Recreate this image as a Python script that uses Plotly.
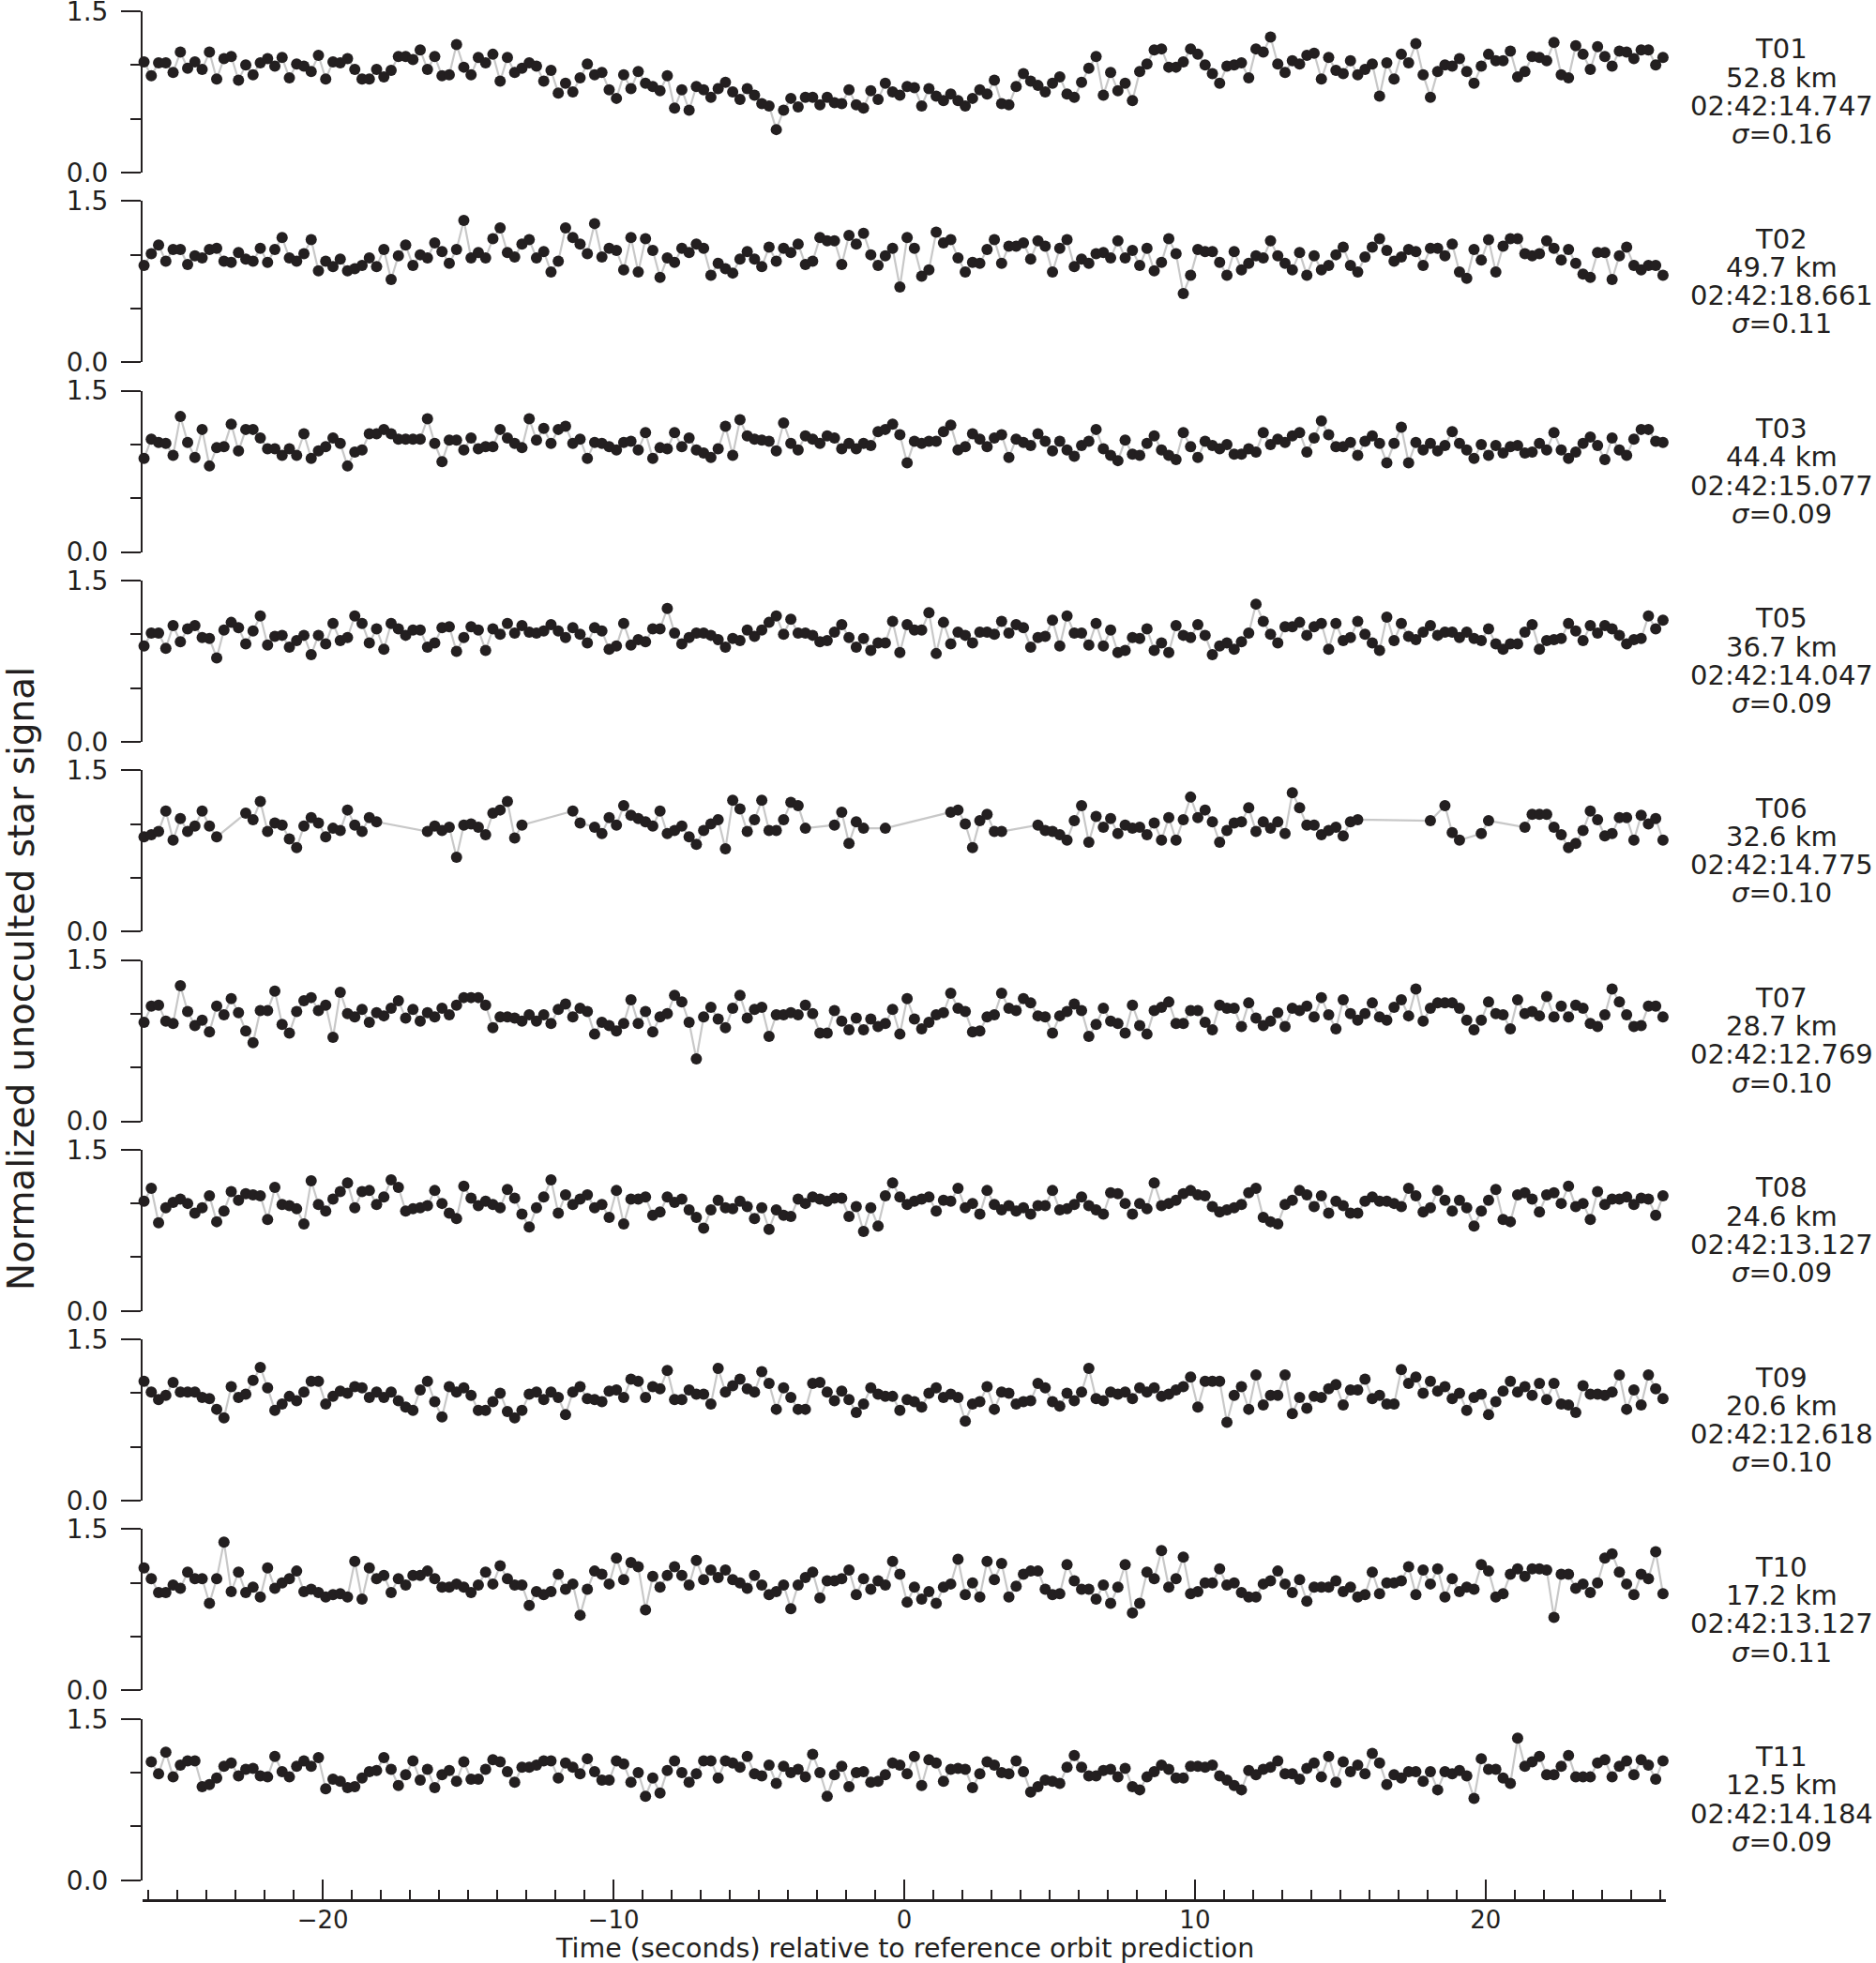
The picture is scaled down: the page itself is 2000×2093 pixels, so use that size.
import numpy as np
import plotly.graph_objects as go

# normalized star signal for each chord, one value per frame (None = dropped frame)
t01 = [1.03,0.90,1.02,1.02,0.93,1.12,0.97,1.03,0.96,1.12,0.87,1.06,1.08,0.86,1.00,0.91,1.02,1.06,0.99,1.07,
       0.88,1.01,0.99,0.94,1.09,0.87,1.03,1.02,1.06,0.96,0.87,0.87,0.96,0.89,0.95,1.08,1.08,1.05,1.14,0.96,
       1.08,0.90,0.91,1.19,0.98,0.91,1.07,1.02,1.10,0.85,1.07,0.93,0.97,1.02,0.99,0.85,0.95,0.74,0.83,0.75,
       0.88,1.01,0.91,0.93,0.77,0.69,0.91,0.78,0.94,0.83,0.80,0.76,0.90,0.60,0.77,0.58,0.80,0.77,0.70,0.78,
       0.84,0.75,0.68,0.78,0.72,0.64,0.62,0.40,0.58,0.69,0.61,0.70,0.70,0.63,0.70,0.65,0.64,0.77,0.63,0.60,
       0.76,0.68,0.83,0.75,0.72,0.80,
       0.79,0.62,0.78,0.71,0.67,0.73,0.67,0.62,0.69,0.77,0.73,0.86,0.64,0.63,0.80,0.92,0.85,0.81,0.75,0.83,
       0.89,0.73,0.70,0.84,0.97,1.08,0.72,0.93,0.76,0.83,0.67,0.94,1.01,1.14,1.15,0.98,0.98,1.03,1.15,1.10,
       1.00,0.92,0.83,0.99,1.00,1.02,0.88,1.15,1.12,1.26,1.01,0.93,1.04,1.01,1.09,1.11,0.87,1.07,0.95,0.92,
       1.04,0.91,0.96,1.01,0.71,1.02,0.87,1.10,1.02,1.20,0.91,0.70,0.94,1.00,0.99,1.06,0.94,0.83,0.99,1.10,
       1.04,1.04,1.13,0.89,0.94,1.08,1.07,1.04,1.21,0.91,0.88,1.18,1.10,0.96,1.17,1.08,0.99,1.13,1.12,1.06,
       1.14,1.14,1.00,1.07]
t02 = [0.90,1.01,1.09,0.94,1.05,1.05,0.91,0.99,0.97,1.05,1.06,0.94,0.93,1.02,0.96,0.94,1.06,0.93,1.05,1.16,
       0.97,0.94,1.01,1.14,0.85,0.94,0.89,0.96,0.85,0.87,0.90,0.97,0.89,1.05,0.77,0.99,1.09,0.90,1.00,0.97,
       1.11,1.03,0.92,1.05,1.32,0.97,1.02,0.97,1.15,1.25,1.02,0.98,1.10,1.14,0.97,1.03,0.84,0.94,1.25,1.16,
       1.10,1.01,1.29,0.98,1.06,1.04,0.86,1.16,0.84,1.15,1.04,0.79,0.97,0.93,1.06,1.02,1.10,1.06,0.81,0.92,
       0.87,0.83,0.96,1.03,0.96,0.89,1.07,0.94,1.06,1.02,1.10,0.91,0.94,1.16,1.13,1.13,0.91,1.18,1.10,1.20,
       1.00,0.90,0.99,1.06,0.70,1.16,
       1.06,0.80,0.86,1.21,1.11,1.14,0.97,0.84,0.93,0.92,1.05,1.14,0.92,1.08,1.08,1.11,0.96,1.13,1.08,0.84,
       1.06,1.14,0.89,0.96,0.92,1.01,1.02,0.97,1.13,0.97,1.04,0.90,1.06,0.85,0.93,1.15,1.01,0.64,0.81,1.05,
       1.03,1.03,0.93,0.81,1.03,0.86,0.92,0.99,0.97,1.13,0.99,0.92,0.86,1.02,0.81,0.99,0.86,0.90,1.00,1.07,
       0.90,0.84,0.98,1.07,1.15,1.04,0.94,0.98,1.05,1.03,0.90,1.06,1.06,0.99,1.10,0.84,0.78,1.05,0.95,1.14,
       0.84,1.08,1.15,1.15,1.01,0.99,1.01,1.13,1.06,0.95,1.05,0.92,0.82,0.79,1.02,1.02,0.77,0.99,1.07,0.90,
       0.86,0.90,0.90,0.81]
t03 = [0.87,1.05,1.02,1.01,0.90,1.26,1.02,0.88,1.14,0.80,0.97,0.98,1.19,0.94,1.14,1.14,1.06,0.96,0.96,0.90,
       0.96,0.90,1.10,0.87,0.94,0.98,1.06,1.01,0.80,0.93,0.95,1.10,1.10,1.14,1.10,1.05,1.05,1.05,1.05,1.24,
       1.01,0.84,1.04,1.04,0.95,1.06,0.96,0.98,0.98,1.14,1.06,1.01,0.97,1.24,1.04,1.15,1.01,1.14,1.17,1.01,
       1.05,0.87,1.02,1.01,0.98,0.95,1.02,1.03,0.95,1.11,0.87,0.97,0.96,1.11,0.98,1.06,0.95,0.92,0.88,0.96,
       1.17,0.90,1.23,1.08,1.05,1.04,1.03,0.94,1.20,1.01,0.95,1.08,1.05,1.01,1.08,1.06,0.96,1.01,0.96,1.01,
       0.99,1.12,1.14,1.19,1.09,0.83,
       1.03,1.01,1.03,1.03,1.12,1.18,0.95,0.98,1.10,1.05,0.98,1.06,1.09,0.88,1.05,1.02,0.99,1.10,1.03,0.94,
       1.03,0.95,0.89,0.99,1.03,1.14,0.96,0.90,0.85,1.04,0.91,0.90,1.01,1.08,0.95,0.90,0.86,1.11,0.98,0.88,
       1.03,0.99,0.96,1.00,0.91,0.91,0.96,0.93,1.11,1.00,1.05,1.02,1.08,1.11,0.93,1.06,1.22,1.09,0.98,0.98,
       1.02,0.90,1.03,1.08,1.01,0.83,1.01,1.16,0.83,1.02,0.95,1.01,0.94,0.99,1.12,1.01,0.95,0.87,1.00,0.90,
       0.99,0.92,0.98,0.99,0.92,0.93,1.01,0.95,1.11,0.95,0.87,0.93,1.01,1.07,0.99,0.86,1.06,0.95,0.90,1.05,
       1.14,1.14,1.03,1.02]
t05 = [0.89,1.01,1.01,0.87,1.08,0.93,1.05,1.08,0.97,0.96,0.78,1.04,1.11,1.06,0.91,1.03,1.17,0.90,0.98,0.99,
       0.88,0.94,0.99,0.81,0.99,0.91,1.10,0.94,0.97,1.17,1.10,0.92,1.05,0.86,1.10,1.05,0.99,1.04,1.04,0.88,
       0.92,1.06,1.07,0.84,0.97,1.07,1.04,0.85,1.05,1.00,1.10,1.01,1.08,1.02,1.01,1.03,1.09,1.03,0.97,1.06,
       1.00,0.92,1.06,1.03,0.86,0.89,1.10,0.90,0.95,0.93,1.05,1.05,1.24,1.01,0.91,0.97,1.01,1.01,0.99,0.95,
       0.88,0.96,0.94,1.04,0.98,1.04,1.11,1.17,1.00,1.14,1.01,1.01,0.99,0.93,0.94,1.02,1.09,0.97,0.88,0.96,
       0.85,0.92,0.92,1.12,0.83,1.09,
       1.04,1.04,1.20,0.82,1.11,0.91,1.02,0.99,0.92,1.02,1.02,1.00,1.12,1.01,1.09,1.06,0.88,0.97,0.98,1.13,
       0.89,1.17,1.01,1.01,0.90,1.10,0.89,1.04,0.83,0.85,0.97,0.96,1.05,0.85,0.92,0.83,1.08,0.99,0.97,1.09,
       0.99,0.81,0.89,0.92,0.86,0.93,1.01,1.28,1.12,1.00,0.92,1.07,1.07,1.11,0.99,1.07,1.10,0.86,1.10,0.94,
       0.97,1.12,1.00,0.92,0.85,1.16,0.94,1.10,0.98,0.95,1.02,1.08,0.99,1.02,1.02,0.97,1.02,0.96,0.94,1.05,
       0.91,0.86,0.91,0.91,1.02,1.09,0.86,0.94,0.95,0.96,1.10,1.03,0.94,1.08,1.01,1.08,1.05,0.99,0.91,0.95,
       0.96,1.17,1.05,1.13]
t06 = [0.88,0.90,0.93,1.12,0.85,1.05,0.93,0.98,1.12,0.98,0.88,None,None,None,
       1.10,1.04,1.21,0.93,1.01,0.99,0.86,0.78,0.98,1.06,1.01,0.88,0.96,0.94,1.13,0.99,0.93,1.06,1.02,
       None,None,None,None,None,None,
       0.93,0.98,0.94,0.97,0.69,0.99,1.00,0.97,0.90,1.10,1.13,1.21,0.87,0.99,
       None,None,None,None,None,None,
       1.12,1.01,None,
       0.97,0.91,1.06,0.99,1.17,1.08,1.05,1.02,0.98,1.12,0.91,0.94,0.98,0.88,0.81,0.94,1.00,1.04,0.77,1.22,
       1.14,0.93,1.04,1.22,0.94,0.94,1.04,1.20,1.17,0.96,
       None,None,None,
       0.99,1.11,0.82,1.02,0.96,None,None,0.96,
       None,None,None,None,None,None,None,None,
       1.11,1.13,1.00,0.78,1.03,1.09,0.93,0.93,None,None,None,None,
       0.99,0.94,0.93,0.90,0.85,1.03,1.17,0.83,1.07,0.97,1.05,0.91,0.99,0.96,0.97,0.90,1.01,0.85,1.06,0.85,
       1.04,1.25,1.06,1.13,1.02,0.83,0.94,1.01,1.02,1.15,0.93,1.02,0.96,1.02,0.91,1.29,1.15,0.99,0.99,0.90,
       0.94,0.97,0.89,1.02,1.04,
       None,None,None,None,None,None,None,None,None,
       1.03,None,1.17,0.92,0.85,None,None,0.91,1.03,None,None,None,None,
       0.97,1.09,1.09,1.09,0.97,0.90,0.78,0.82,0.94,1.12,1.04,0.89,0.91,1.06,1.06,0.85,1.08,1.00,1.05,0.85]
t07 = [0.92,1.07,1.08,0.93,0.91,1.26,1.02,0.89,0.94,0.83,1.07,0.99,1.14,1.01,0.84,0.73,1.03,1.03,1.21,0.90,
       0.82,1.02,1.12,1.15,1.03,1.08,0.78,1.20,1.00,0.97,1.04,0.92,1.01,0.98,1.05,1.12,0.96,1.04,0.93,1.01,
       0.97,1.05,0.99,1.08,1.15,1.15,1.15,1.08,0.87,0.97,0.97,0.96,0.93,0.99,0.93,0.99,0.91,1.04,1.09,0.97,
       1.05,1.02,0.81,0.92,0.89,0.84,0.91,1.13,0.91,1.02,0.83,0.97,1.00,1.17,1.11,0.92,0.58,0.97,1.06,0.95,
       0.87,1.05,1.17,0.96,1.04,1.06,0.79,0.99,0.99,1.01,0.99,1.08,1.00,0.82,0.82,1.03,0.93,0.85,0.96,0.85,
       0.95,0.88,0.91,1.04,0.81,1.14,
       0.95,0.86,0.92,0.99,1.01,1.19,1.05,1.02,0.83,0.84,0.97,0.99,1.19,1.05,1.03,1.14,1.10,0.98,0.97,0.82,
       0.98,1.02,1.09,1.03,0.79,0.90,1.05,0.93,0.91,0.82,1.08,0.89,0.81,1.03,1.06,1.11,0.91,0.91,1.03,1.03,
       0.92,0.85,1.08,1.05,1.05,0.88,1.10,0.96,0.89,0.93,1.01,0.88,1.05,1.03,1.07,0.97,1.15,0.99,0.86,1.13,
       1.00,0.94,1.00,1.10,0.97,0.94,1.06,1.13,0.98,1.23,0.93,1.05,1.10,1.10,1.10,1.05,0.94,0.85,0.94,1.11,
       1.00,0.99,0.86,1.13,1.00,1.02,0.98,1.16,0.97,1.07,0.97,1.08,1.05,0.91,0.88,0.99,1.23,1.11,0.99,0.88,
       0.89,1.07,1.07,0.97]
t08 = [1.02,1.14,0.82,0.96,1.01,1.04,1.00,0.91,0.96,1.07,0.83,0.93,1.11,1.03,1.09,1.08,1.07,0.85,1.15,0.99,
       0.98,0.95,0.81,1.21,0.99,0.93,1.04,1.11,1.19,0.96,1.11,1.12,0.99,1.06,1.22,1.15,0.93,0.95,0.96,0.98,
       1.12,1.00,0.91,0.86,1.16,1.05,0.98,1.02,0.99,0.96,1.13,1.05,0.90,0.78,0.96,1.06,1.22,0.91,1.08,0.99,
       1.04,1.08,0.96,0.99,0.87,1.12,0.81,1.04,1.04,1.06,0.89,0.92,1.06,1.01,1.04,0.94,0.87,0.77,0.94,1.03,
       0.96,0.95,1.02,0.97,0.86,0.96,0.76,0.94,0.89,0.88,1.04,1.00,1.06,1.04,1.02,1.05,1.05,0.88,0.97,0.74,
       0.96,0.79,1.07,1.19,1.06,0.99,
       1.02,1.04,1.06,0.93,1.03,1.02,1.14,0.96,1.00,0.90,1.12,0.99,0.94,0.98,0.93,0.96,0.90,0.98,0.98,1.12,
       0.94,0.95,0.99,1.06,0.98,0.94,0.90,1.10,1.09,1.00,0.90,1.00,0.95,1.19,0.98,1.00,1.03,1.09,1.12,1.08,
       1.07,0.97,0.92,0.94,0.96,0.99,1.10,1.14,0.87,0.83,0.81,0.99,1.03,1.12,1.08,0.97,1.07,0.91,1.02,0.98,
       0.91,0.91,1.02,1.06,1.02,1.02,1.00,0.97,1.14,1.07,0.92,0.96,1.12,1.03,0.93,1.03,0.96,0.79,0.93,1.03,
       1.13,0.85,0.83,1.08,1.10,1.04,0.92,1.08,1.10,1.00,1.16,0.97,1.00,0.85,1.11,0.99,1.04,1.04,1.06,0.99,
       1.05,1.04,0.89,1.07]
t09 = [1.11,1.01,0.94,0.98,1.10,1.01,1.01,1.01,0.96,0.95,0.85,0.77,1.06,0.96,0.99,1.12,1.24,1.05,0.84,0.90,
       0.97,0.93,1.01,1.11,1.11,0.90,0.97,1.02,1.00,1.06,1.05,0.96,1.01,0.96,1.01,0.93,0.87,0.84,1.03,1.11,
       0.92,0.78,1.06,1.01,1.05,0.98,0.84,0.84,0.92,1.00,0.83,0.77,0.84,0.99,1.01,0.94,1.01,0.96,0.80,1.01,
       1.06,0.95,0.94,0.92,1.02,1.03,0.96,1.13,1.11,0.96,1.06,1.04,1.21,0.94,0.94,1.03,0.99,0.99,0.90,1.23,
       1.01,1.07,1.13,1.04,1.01,1.20,1.09,0.85,1.05,0.96,0.85,0.85,1.09,1.10,1.01,0.93,1.02,0.94,0.82,0.90,
       1.05,0.99,0.97,0.97,0.84,0.94,
       0.92,0.87,1.00,1.05,0.96,0.99,0.96,0.74,0.90,0.92,1.06,0.85,1.01,1.00,0.90,0.92,0.93,1.09,1.05,0.92,
       0.88,1.00,0.93,1.01,1.23,0.95,0.93,1.01,0.99,1.01,0.95,1.05,1.01,1.05,0.97,0.99,1.03,1.06,1.15,0.87,
       1.11,1.11,1.11,0.73,0.98,1.06,0.85,1.17,0.89,0.98,0.98,1.17,0.81,0.96,0.86,0.97,0.96,1.04,1.08,0.89,
       1.03,1.03,1.13,0.95,0.98,0.90,0.90,1.22,1.09,1.15,1.00,1.11,1.02,1.06,0.95,1.00,0.84,0.96,0.99,0.80,
       0.92,1.02,1.11,1.01,1.06,0.98,1.09,0.94,1.09,0.90,0.89,0.82,1.07,0.99,0.99,0.98,1.01,1.17,0.85,1.03,
       0.89,1.17,1.04,0.95]
t10 = [1.14,1.04,0.91,0.91,0.98,0.95,1.10,1.04,1.04,0.81,1.04,1.38,0.92,1.10,0.91,0.96,0.87,1.14,0.95,1.00,
       1.04,1.11,0.92,0.94,0.91,0.87,0.89,0.90,0.87,1.20,0.85,1.14,1.04,1.07,0.91,1.04,0.98,1.07,1.07,1.11,
       1.04,0.96,0.96,0.99,0.96,0.91,0.98,1.10,0.99,1.16,1.04,0.98,0.98,0.79,0.92,0.89,0.92,1.08,0.94,0.99,
       0.70,0.94,1.11,1.08,0.99,1.23,1.03,1.19,1.15,0.75,1.06,0.96,1.07,1.15,1.07,0.98,1.21,1.03,1.12,1.05,
       1.12,1.03,1.00,0.95,1.07,0.98,0.89,0.92,0.98,0.76,0.98,1.05,1.10,0.86,1.02,1.02,1.04,1.12,0.89,1.04,
       0.94,1.02,0.98,1.20,1.08,0.82,
       0.96,0.85,0.92,0.81,0.96,0.99,1.22,0.89,1.00,0.87,1.20,1.03,1.18,0.87,0.97,1.08,1.11,1.11,0.94,0.89,
       0.90,1.17,1.02,0.94,0.94,0.85,0.98,0.81,0.96,1.17,0.72,0.81,1.10,1.04,1.30,0.96,1.04,1.24,0.90,0.92,
       1.00,1.00,1.13,0.98,1.00,0.91,0.87,0.87,0.99,1.02,1.11,0.99,0.91,1.03,0.83,0.96,0.96,0.96,1.02,0.92,
       0.96,0.87,0.89,1.10,0.90,1.00,1.00,1.02,1.15,0.89,1.12,0.99,1.13,0.87,1.04,0.92,0.96,0.94,1.17,1.11,
       0.87,0.90,1.08,1.13,1.06,1.13,1.13,1.12,0.68,1.08,1.08,0.95,0.99,0.91,1.00,1.23,1.27,1.10,0.99,0.89,
       1.08,1.04,1.29,0.90]
t11 = [1.10,0.99,1.19,0.96,1.07,1.11,1.11,0.87,0.89,0.95,1.06,1.09,0.97,1.03,1.04,0.97,0.96,1.15,1.01,0.96,
       1.06,1.11,1.06,1.14,0.85,0.94,0.92,0.86,0.87,0.95,1.01,1.02,1.14,1.03,0.88,0.98,1.11,0.93,1.03,0.86,
       0.98,1.02,0.92,1.10,0.94,0.94,1.03,1.12,1.10,1.01,0.91,1.05,1.05,1.07,1.11,1.11,0.95,1.09,1.05,0.99,
       1.13,1.01,0.93,0.93,1.11,1.08,0.91,1.00,0.78,0.95,0.81,1.02,1.11,1.00,0.91,0.99,1.11,1.11,0.95,1.11,
       1.09,1.05,1.15,0.99,0.97,1.07,0.90,1.06,1.00,1.03,0.96,1.17,1.00,0.78,0.98,1.06,0.87,1.00,1.01,0.91,
       0.92,0.98,1.09,1.07,0.99,
       1.15,0.88,1.12,1.09,0.92,1.03,1.04,1.03,0.86,0.99,1.10,1.07,1.00,0.99,1.11,1.01,0.82,0.87,0.93,0.92,
       0.90,1.05,1.16,1.05,0.97,0.97,1.02,1.03,0.96,1.04,0.87,0.84,0.96,1.01,1.07,1.03,0.95,0.95,1.06,1.06,
       1.05,1.07,0.97,0.93,0.88,0.84,1.02,0.98,1.03,1.05,1.11,0.99,0.99,0.94,1.04,1.09,0.96,1.15,0.91,1.10,
       1.01,1.07,0.99,1.18,1.09,0.89,0.98,0.95,1.01,1.01,0.92,1.01,0.84,1.01,0.99,1.02,0.97,0.76,1.13,1.03,
       1.03,0.95,0.90,1.32,1.06,1.10,1.15,0.98,0.98,1.06,1.16,0.96,0.96,0.96,1.09,1.12,0.96,1.06,1.11,0.98,
       1.12,1.07,0.94,1.11]

series = [t01, t02, t03, t05, t06, t07, t08, t09, t10, t11]
chords = ["T01", "T02", "T03", "T05", "T06", "T07", "T08", "T09", "T10", "T11"]
distances = ["52.8 km", "49.7 km", "44.4 km", "36.7 km", "32.6 km",
             "28.7 km", "24.6 km", "20.6 km", "17.2 km", "12.5 km"]
mid_times = ["02:42:14.747", "02:42:18.661", "02:42:15.077", "02:42:14.047", "02:42:14.775",
             "02:42:12.769", "02:42:13.127", "02:42:12.618", "02:42:13.127", "02:42:14.184"]
sigmas = ["0.16", "0.11", "0.09", "0.09", "0.10", "0.10", "0.09", "0.10", "0.11", "0.09"]
first_frame = [-26.15, -26.15, -26.15, -26.15, -26.15, -26.15, -26.15, -26.15, -26.15, -25.9]
FRAME_STEP = 0.25

INK = "#231f20"
GREY = "#c8c8c8"
FONT = "DejaVu Sans"
W, H = 2000, 2093
X0, X1 = 152, 1776
TOP0, PITCH, PANEL_H = 12, 202.3, 172

fig = go.Figure()
layout = dict(
    width=W, height=H,
    margin=dict(l=0, r=0, t=0, b=0, pad=0, autoexpand=False),
    paper_bgcolor="white", plot_bgcolor="white",
    showlegend=False,
    font=dict(family=FONT, color=INK),
)
annotations = []

for i, vals in enumerate(series):
    xs = first_frame[i] + FRAME_STEP * np.arange(len(vals))
    xn = "" if i == 0 else str(i + 1)
    yl = "" if i == 0 else str(2 * i + 1)
    yr = str(2 * i + 2)
    fig.add_trace(go.Scatter(
        x=xs, y=vals, mode="lines+markers",
        line=dict(color=GREY, width=2.2),
        marker=dict(size=12, color=INK),
        connectgaps=True, cliponaxis=False,
        xaxis="x" + xn, yaxis="y" + yl,
    ))

    top = TOP0 + PITCH * i
    bot = top + PANEL_H
    dom = [1 - bot / H, 1 - top / H]

    yax = dict(
        range=[0, 1.5], showgrid=False, zeroline=False, automargin=False,
        showline=True, linewidth=2, linecolor=INK,
        tickmode="array", tickvals=[0, 1.5],
        ticks="outside", ticklen=21, tickwidth=2, tickcolor=INK,
        minor=dict(tickmode="array", tickvals=[0.5, 1.0], ticks="outside",
                   ticklen=11, tickwidth=2, tickcolor=INK, showgrid=False),
        fixedrange=True,
    )
    layout["yaxis" + yl] = dict(
        yax, domain=dom, anchor="x" + xn,
        ticktext=["0.0", "1.5"], tickfont=dict(size=28, color=INK, family=FONT),
        ticklabelstandoff=8, ticklabeloverflow="allow",
    )
    layout["yaxis" + yr] = dict(
        yax, overlaying="y" + yl, side="right", anchor="x" + xn,
        showticklabels=False,
    )

    if i < len(series) - 1:
        layout["xaxis" + xn] = dict(domain=[X0 / W, X1 / W], range=[-26.2, 26.2], automargin=False,
                                    anchor="y" + yl, visible=False, fixedrange=True)
    else:
        layout["xaxis" + xn] = dict(
            domain=[X0 / W, X1 / W], range=[-26.2, 26.2], automargin=False,
            anchor="free", position=1 - 2026 / H,
            showline=True, linewidth=2.5, linecolor=INK,
            showgrid=False, zeroline=False,
            tickmode="linear", tick0=0, dtick=10,
            ticks="inside", ticklen=21, tickwidth=2, tickcolor=INK,
            minor=dict(tick0=0, dtick=1, ticks="inside", ticklen=10,
                       tickwidth=2, tickcolor=INK, showgrid=False),
            tickfont=dict(size=26, color=INK, family=FONT),
            ticklabelstandoff=-3, ticklabeloverflow="allow",
            fixedrange=True,
        )

    lines = [chords[i], distances[i], mid_times[i], "<i>σ</i>=" + sigmas[i]]
    for k, txt in enumerate(lines):
        annotations.append(dict(
            text=txt, xref="paper", yref="paper",
            x=1899 / W, y=1 - (top + 40.5 + 30.2 * k) / H,
            xanchor="center", yanchor="middle", showarrow=False,
            font=dict(size=29, color=INK, family=FONT),
        ))

annotations.append(dict(
    text="Normalized unocculted star signal", xref="paper", yref="paper",
    x=22 / W, y=1 - 1044 / H, textangle=-90,
    xanchor="center", yanchor="middle", showarrow=False,
    font=dict(size=39, color=INK, family=FONT),
))
annotations.append(dict(
    text="Time (seconds) relative to reference orbit prediction", xref="paper", yref="paper",
    x=964 / W, y=1 - 2077 / H,
    xanchor="center", yanchor="middle", showarrow=False,
    font=dict(size=28.5, color=INK, family=FONT),
))
layout["annotations"] = annotations

fig.update_layout(**layout)
# drop the browser's default body margin so the figure fills the window exactly
fig.write_html("out.html", config={"displayModeBar": False},
               post_script="document.body.style.margin='0px';")
